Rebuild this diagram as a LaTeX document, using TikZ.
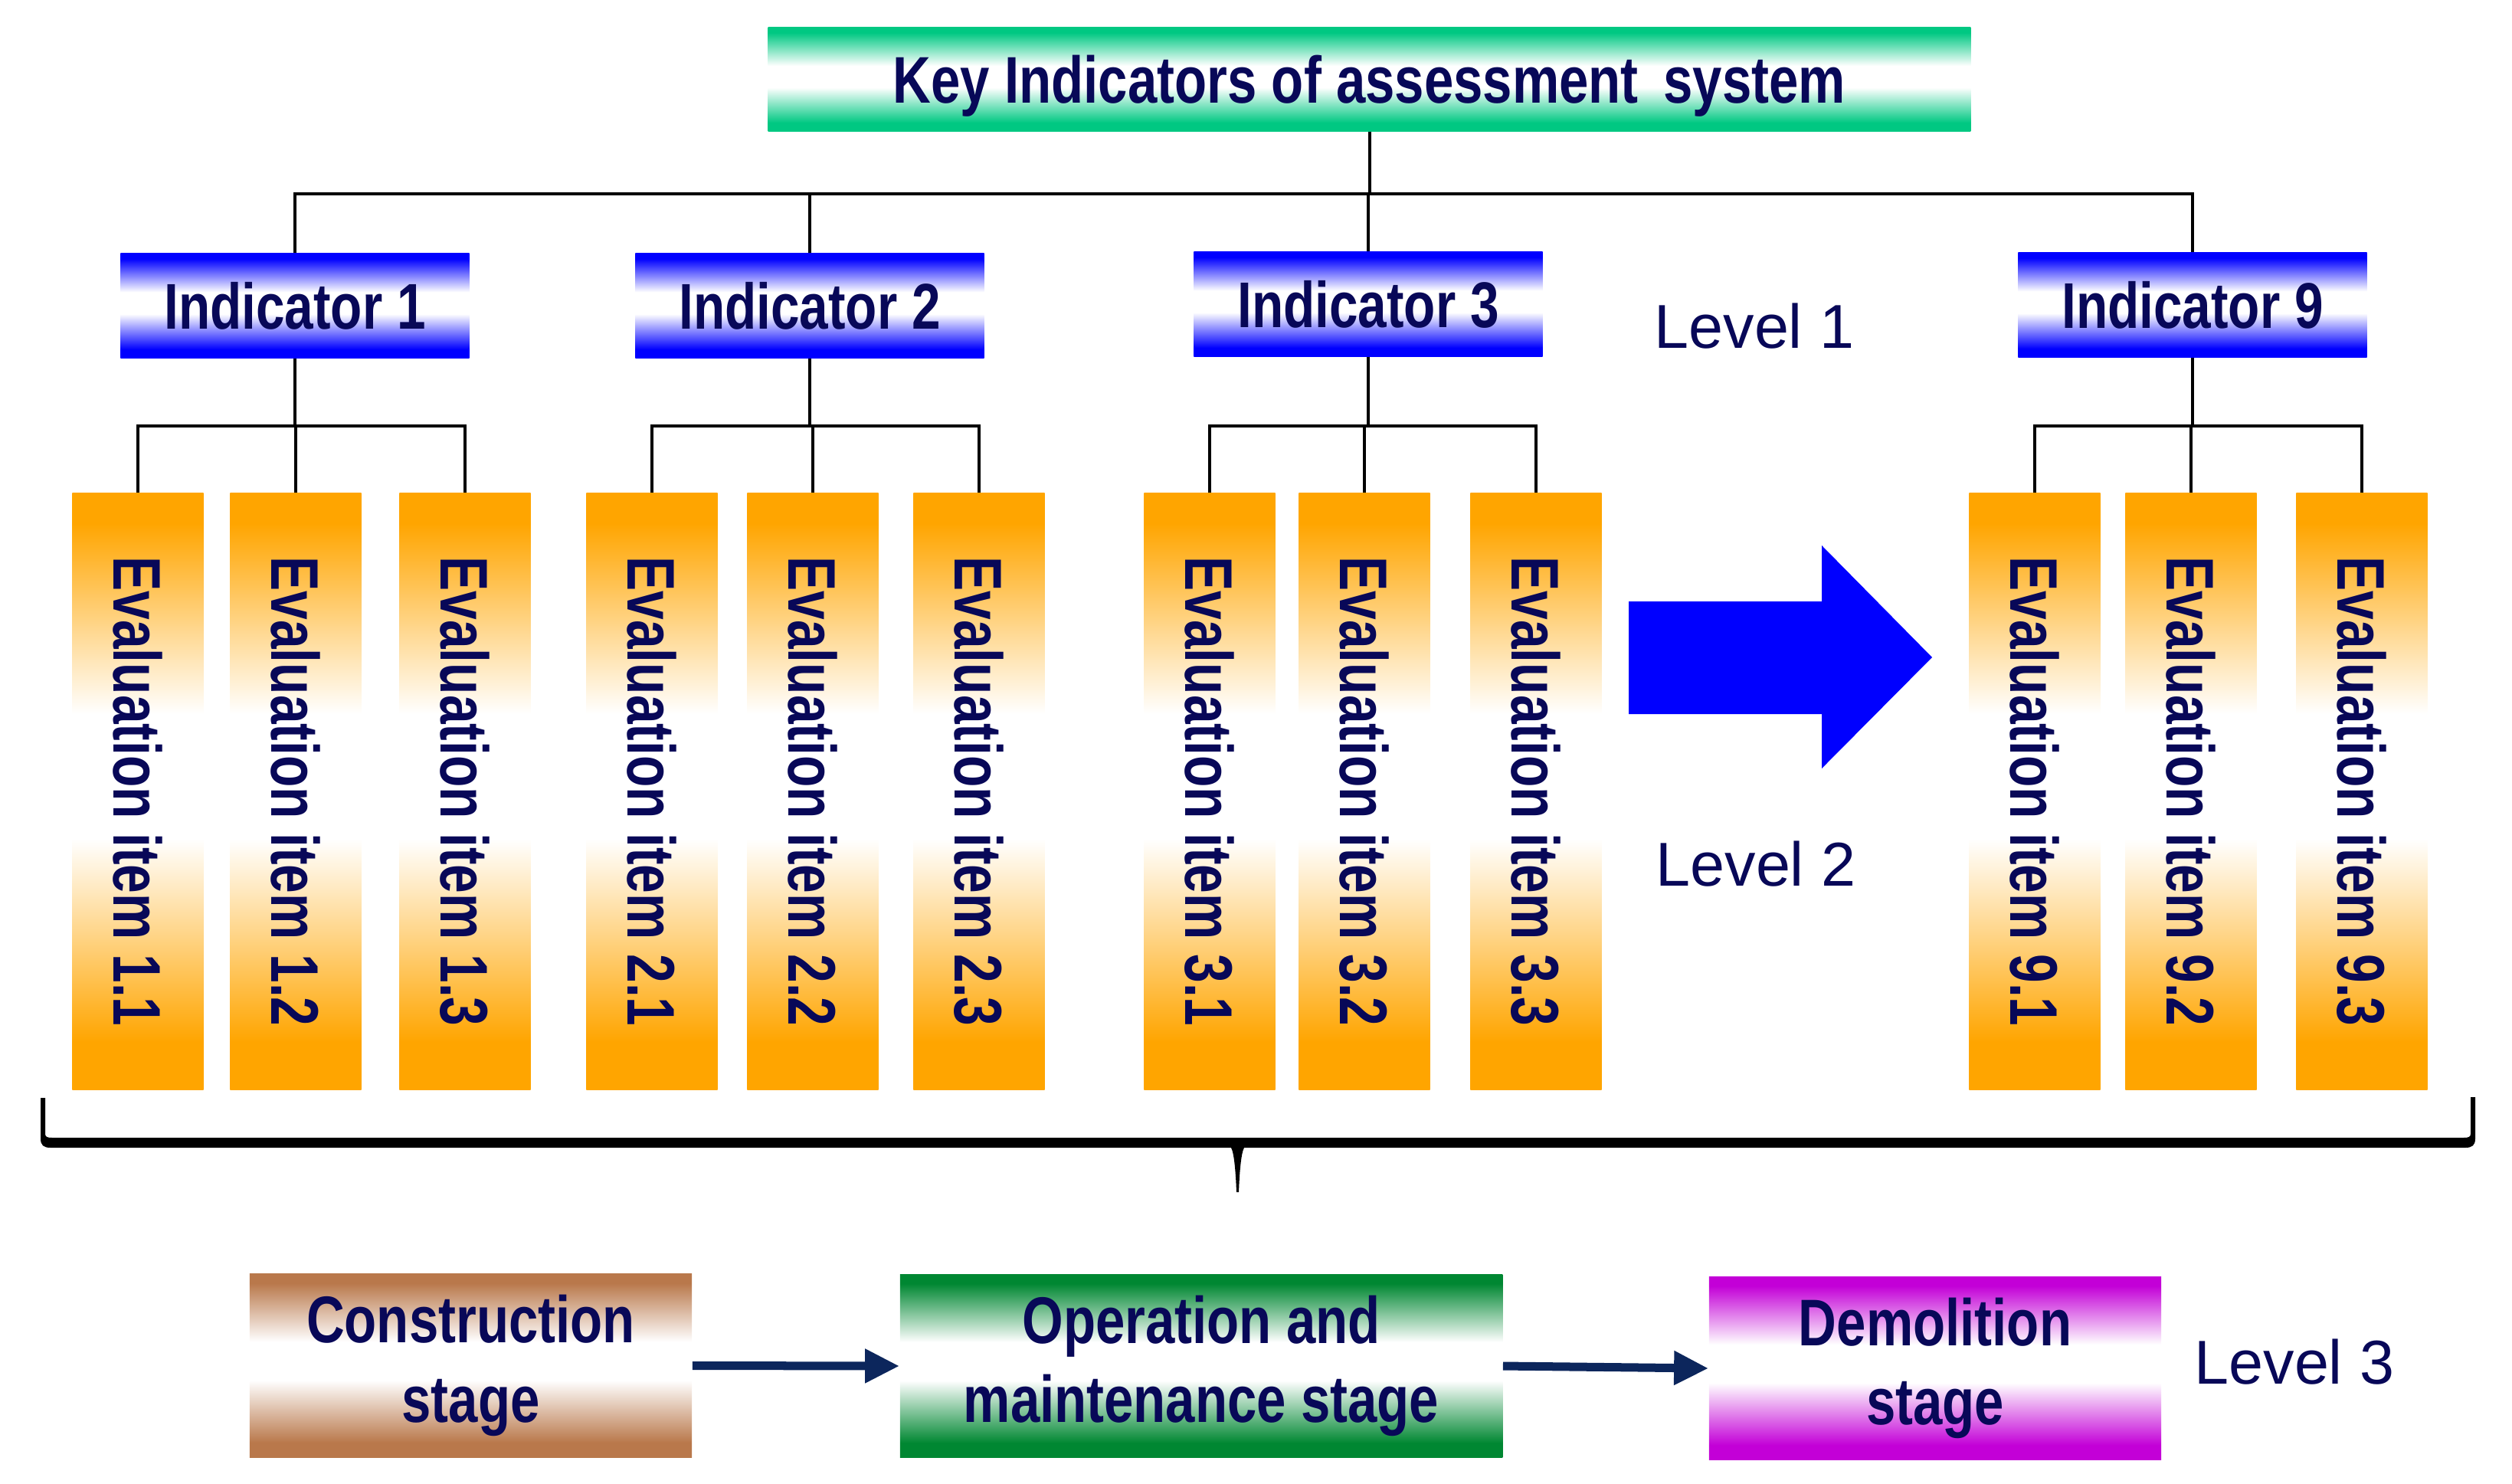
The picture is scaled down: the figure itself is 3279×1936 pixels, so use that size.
\documentclass[tikz,border=0pt]{standalone}
\usepackage{fontspec}
\usepackage{graphicx}
\setmainfont{Liberation Sans}
\newfontfamily\nb{Liberation Sans}[FakeStretch=0.8]
\newfontfamily\nbe{Liberation Sans}[FakeStretch=0.77]
\usetikzlibrary{arrows.meta}

\definecolor{txtnavy}{RGB}{8,8,88}
\definecolor{cGreen}{RGB}{0,200,130}
\definecolor{cBlue}{RGB}{0,0,255}
\definecolor{cOrange}{RGB}{255,165,0}
\definecolor{cBrown}{RGB}{185,120,75}
\definecolor{cDGreen}{RGB}{0,135,50}
\definecolor{cPurple}{RGB}{195,0,215}
\definecolor{arrowC}{RGB}{12,38,92}

\newcommand\mkshade[2]{\pgfdeclareverticalshading{#1}{100bp}{color(0bp)=(#2); color(29bp)=(#2); color(46bp)=(white); color(56.5bp)=(white); color(72.5bp)=(#2); color(100bp)=(#2)}}
\mkshade{shGreen}{cGreen}
\mkshade{shBlue}{cBlue}
\mkshade{shOrange}{cOrange}
\mkshade{shBrown}{cBrown}
\mkshade{shDGreen}{cDGreen}
\mkshade{shPurple}{cPurple}

\tikzset{
  box/.style={inner sep=0pt, text=txtnavy, align=center},
  titlebox/.style={box, shade, shading=shGreen, minimum width=15.69cm, minimum height=1.35cm, text depth=0pt,
    font=\nb\bfseries\fontsize{24.5}{29}\selectfont},
  indbox/.style={box, shade, shading=shBlue, minimum width=4.55cm, minimum height=1.36cm, text depth=0pt,
    font=\nb\bfseries\fontsize{24}{29}\selectfont},
  evalbox/.style={box, shade, shading=shOrange, minimum width=1.71cm, minimum height=7.78cm,
    font=\nbe\bfseries\fontsize{25}{30}\selectfont},
  stagebox/.style={box, shade, minimum height=2.39cm, font=\nb\bfseries\fontsize{24.5}{29.5}\selectfont},
  lvl/.style={text=txtnavy, inner sep=0pt, text depth=0pt, font=\fontsize{23}{27}\selectfont},
  conn/.style={line width=0.04cm, draw=black},
  flow/.style={line width=0.11cm, draw=arrowC, -{Triangle[length=0.45cm,width=0.42cm]}},
}

\begin{document}
\begin{tikzpicture}[x=0.01cm, y=-0.01cm]
\useasboundingbox (0,0) rectangle (3279,1936);

% top
\node[titlebox] (top) at (1787.5,103.5) {Key Indicators of assessment\hspace{0.38em}system};

% level 1
\node[indbox] (i1) at (385,399) {Indicator 1};
\node[indbox] (i2) at (1057,399) {Indicator 2};
\node[indbox] (i3) at (1786,397) {Indicator 3};
\node[indbox] (i9) at (2862,398) {Indicator 9};

\node[lvl] (l1) at (2290,425) {Level 1};
\node[lvl] (l2) at (2292,1127) {Level 2};
\node[lvl] (l3) at (2995,1777) {Level 3};

% level 2
\node[evalbox] (e11) at (180,1033) {\rotatebox{-90}{Evaluation item 1.1}};
\node[evalbox] (e12) at (386,1033) {\rotatebox{-90}{Evaluation item 1.2}};
\node[evalbox] (e13) at (607,1033) {\rotatebox{-90}{Evaluation item 1.3}};
\node[evalbox] (e21) at (851,1033) {\rotatebox{-90}{Evaluation item 2.1}};
\node[evalbox] (e22) at (1061,1033) {\rotatebox{-90}{Evaluation item 2.2}};
\node[evalbox] (e23) at (1278,1033) {\rotatebox{-90}{Evaluation item 2.3}};
\node[evalbox] (e31) at (1579,1033) {\rotatebox{-90}{Evaluation item 3.1}};
\node[evalbox] (e32) at (1781,1033) {\rotatebox{-90}{Evaluation item 3.2}};
\node[evalbox] (e33) at (2005,1033) {\rotatebox{-90}{Evaluation item 3.3}};
\node[evalbox] (e91) at (2656,1033) {\rotatebox{-90}{Evaluation item 9.1}};
\node[evalbox] (e92) at (2860,1033) {\rotatebox{-90}{Evaluation item 9.2}};
\node[evalbox] (e93) at (3083,1033) {\rotatebox{-90}{Evaluation item 9.3}};

% connectors
\coordinate (bus) at (0,253);
\coordinate (sub) at (0,556);
\draw[conn] (top.south) -- (top.south |- bus);
\draw[conn] (i1.north) -- (i1.north |- bus) -- (i9.north |- bus) -- (i9.north);
\draw[conn] (i2.north) -- (i2.north |- bus);
\draw[conn] (i3.north) -- (i3.north |- bus);
\foreach \g in {1,2,3,9}{
  \draw[conn] (i\g.south) -- (i\g.south |- sub);
  \draw[conn] (e\g1.north) -- (e\g1.north |- sub) -- (e\g3.north |- sub) -- (e\g3.north);
  \draw[conn] (e\g2.north) -- (e\g2.north |- sub);
}

% big blue arrow
\fill[cBlue] (2126,785) -- (2378,785) -- (2378,712) -- (2522,858) -- (2378,1003) -- (2378,932) -- (2126,932) -- cycle;

% brace
\fill[black] (53,1433) -- (53,1486) .. controls (53,1495) and (57,1498) .. (66,1498)
  -- (1607,1498) .. controls (1611,1505) and (1613,1530) .. (1614,1556)
  -- (1617,1556) .. controls (1618,1530) and (1620,1505) .. (1624,1498)
  -- (3218,1498) .. controls (3227,1498) and (3231,1495) .. (3231,1486)
  -- (3231,1432) -- (3225,1432) -- (3225,1480) .. controls (3225,1484) and (3222,1485) .. (3216,1485)
  -- (68,1485) .. controls (62,1485) and (59,1484) .. (59,1480) -- (59,1433) -- cycle;

% level 3
\node[stagebox, shading=shBrown, minimum width=5.77cm] (s1) at (614.5,1782.5) {Construction\\stage};
\node[stagebox, shading=shDGreen, minimum width=7.86cm] (s2) at (1568,1783) {Operation and\\maintenance stage};
\node[stagebox, shading=shPurple, minimum width=5.90cm] (s3) at (2526,1786) {Demolition\\stage};
\draw[flow] (s1.east) -- (s2.west);
\draw[flow] (s2.east) -- (s3.west);
\end{tikzpicture}
\end{document}
